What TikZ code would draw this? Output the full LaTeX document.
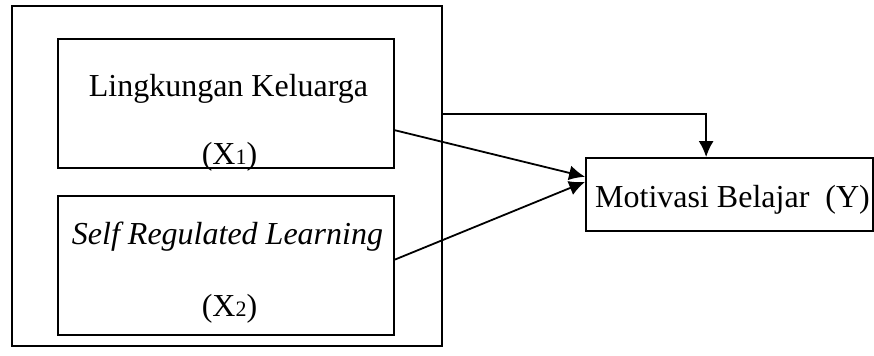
\documentclass[tikz,border=0pt]{standalone}
\usepackage{fontspec}
\setmainfont{Liberation Serif}
\usetikzlibrary{arrows.meta}
\tikzset{
    kotak/.style = {rectangle, draw, line width=0.9pt, inner sep=0pt},
    teks/.style = {anchor=base, inner sep=0pt, font=\fontsize{16}{19}\selectfont},
    panah/.style = {->, line width=0.9pt},
    >={Latex[length=8pt,width=7.5pt]}
}
\newcommand{\kecil}[1]{{\fontsize{11}{11}\selectfont #1}}

\begin{document}
\begin{tikzpicture}[x=0.5pt, y=-0.5pt]
                \useasboundingbox (0,0) rectangle (874,356);
                \node (cadre) [kotak, minimum width=215pt, minimum height=170pt] at (227, 176) {};
                \node (X1) [kotak, minimum width=168pt, minimum height=64.5pt] at (226, 103.5) {};
                \node (X2) [kotak, minimum width=168pt, minimum height=69.5pt] at (226, 265.5) {};
                \node (Y) [kotak, minimum width=143.5pt, minimum height=36.5pt] at (729.5, 194.5) {};
                \node (1A) [teks] at (228.5, 97) {Lingkungan Keluarga};
                \node (1B) [teks] at (229.5, 165) {(X\kecil{1})};
                \node (2A) [teks] at (227.5, 245) {\textit{Self Regulated Learning}};
                \node (2B) [teks] at (229.5, 317) {(X\kecil{2})};
                \node (3A) [teks] at (732.5, 208) {Motivasi Belajar\ \ (Y)};
                \path[panah] (X1.-9.3) edge (Y.173.8)
                (X2.2.9) edge (Y.175.4);
                \draw[panah] (cadre.16.8) -| (Y.122.8);
            \end{tikzpicture}
\end{document}
